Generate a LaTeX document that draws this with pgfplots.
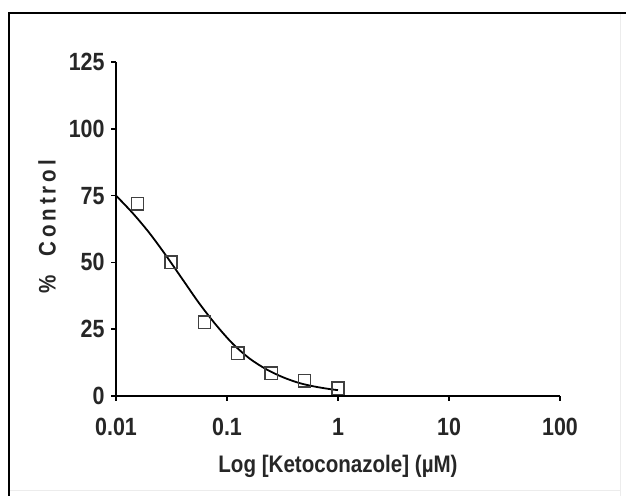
\documentclass[border=0pt]{standalone}
\usepackage{fontspec}
\setmainfont{Liberation Sans}[FakeStretch=0.86]
\usepackage{pgfplots}
\pgfplotsset{compat=1.18}
\begin{document}
\begin{tikzpicture}[x=1bp,y=1bp]
\useasboundingbox (0,0) rectangle (626,496);
\fill[white] (0,0) rectangle (626,496);
\draw[gray!15, line width=1bp] (620,483) -- (620,0);
\draw[gray!15, line width=1bp] (9,5) -- (620,5);
\draw[black, line width=2.2bp] (9,0) -- (9,483) -- (626,483);
\begin{axis}[
  at={(116bp,100bp)}, anchor=south west,
  scale only axis, width=444bp, height=334bp,
  xmode=log, xmin=0.01, xmax=100, ymin=0, ymax=125,
  axis x line*=bottom, axis y line*=left,
  axis line style={line width=1.6bp},
  xtick={0.01,0.1,1,10,100}, xticklabels={0.01,0.1,1,10,100},
  ytick={0,25,50,75,100,125}, yticklabels={0,25,50,75,100,125},
  minor x tick num=0, xminorticks=false,
  tick align=outside, major tick length=5bp,
  major tick style={line width=1.6bp, black},
  ticklabel style={font=\fontsize{25}{27}\selectfont\bfseries, text=black!85},
  xticklabel style={yshift=-14bp},
  yticklabel style={xshift=-3bp},
  xlabel={Log [Ketoconazole] (µM)},
  xlabel style={at={(axis description cs:0.5,-0.21)}, anchor=center, font=\fontsize{24}{26}\selectfont\bfseries, text=black!85},
  ylabel={\addfontfeature{LetterSpace=16}\%\ \ Control},
  ylabel style={at={(axis description cs:-0.155,0.506)}, anchor=center, rotate=0, font=\fontsize{24}{26}\selectfont\bfseries, text=black!85},
  clip=false,
]
\addplot[black, line width=1.8bp, smooth, no markers] coordinates {
 (0.01,75) (0.0141,68.5) (0.02,61) (0.0283,52.5) (0.04,43.5) (0.0566,34.5)
 (0.08,26.5) (0.113,19.5) (0.16,14) (0.226,10) (0.32,7) (0.453,4.8)
 (0.64,3.4) (0.905,2.4) (1.0,2.2)
};
\addplot[only marks, mark=square, mark size=6.1bp, black!75, mark options={line width=1.4bp}] coordinates {
 (0.015625,71.9) (0.03125,50.1) (0.0625,27.6) (0.125,16.0) (0.25,8.5) (0.5,5.7) (1,2.9)
};
\end{axis}
\end{tikzpicture}
\end{document}
